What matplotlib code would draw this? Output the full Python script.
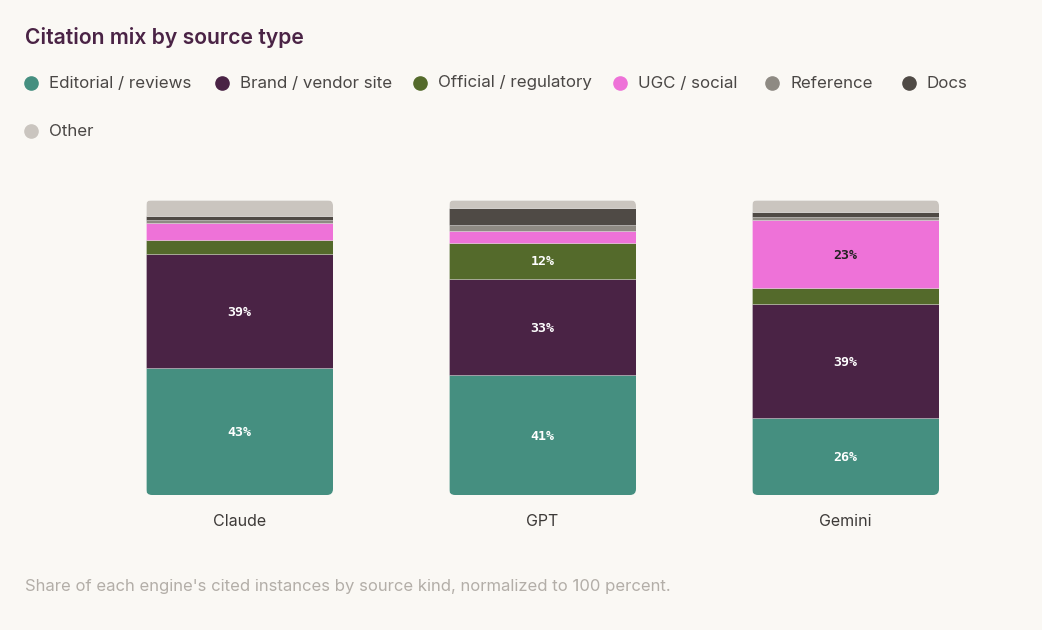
import matplotlib.pyplot as plt
from matplotlib.patches import FancyBboxPatch
from matplotlib.lines import Line2D

# data (percent of cited instances)
engines = ["Claude", "GPT", "Gemini"]
source_types = ["Editorial / reviews", "Brand / vendor site", "Official / regulatory",
                "UGC / social", "Reference", "Docs", "Other"]
editorial = [43.0, 40.7, 26.0]
brand = [38.7, 32.6, 38.6]
official = [4.7, 12.2, 5.6]
ugc = [5.8, 4.0, 23.0]
reference = [0.9, 1.9, 1.0]
docs = [1.4, 6.0, 1.8]
other = [5.5, 2.6, 4.0]
series = [editorial, brand, official, ugc, reference, docs, other]

colors = ["#458f80", "#4a2345", "#546a2b", "#ee72d8", "#8e8a83", "#4f4a45", "#cac5bf"]
label_colors = ["white", "white", "white", "#222222", "white", "white", "white"]
bg = "#faf8f4"

plt.rcParams["font.family"] = ["Inter", "DejaVu Sans"]

fig = plt.figure(figsize=(10.42, 6.3), dpi=100, facecolor=bg)
ax = fig.add_axes([88 / 1042, 135 / 630, 909 / 1042, 295 / 630])
ax.set_facecolor(bg)
ax.set_xlim(-0.5, 2.5)
ax.set_ylim(0, 100)

bar_w = 187 / 303
x = list(range(len(engines)))

# rounded clip box for each bar
clips = []
for i in x:
    total = sum(s[i] for s in series)
    box = FancyBboxPatch((i - bar_w / 2, 0), bar_w, total,
                         boxstyle="round,pad=0,rounding_size=0.02",
                         mutation_aspect=303 / 2.95,
                         transform=ax.transData, facecolor="none", edgecolor="none")
    ax.add_patch(box)
    clips.append(box)

bottom = [0, 0, 0]
for vals, col, lc in zip(series, colors, label_colors):
    bars = ax.bar(x, vals, bar_w, bottom=bottom, color=col,
                  edgecolor=(1, 1, 1, 0.3), linewidth=0.6)
    for b, clip in zip(bars, clips):
        b.set_clip_path(clip)
    for i, v in enumerate(vals):
        if v >= 10:
            ax.text(i, bottom[i] + v / 2 - 0.4, f"{v:.0f}%", ha="center", va="center",
                    color=lc, fontsize=9.5, fontweight="bold",
                    family="DejaVu Sans Mono")
    bottom = [b + v for b, v in zip(bottom, vals)]

for s in ax.spines.values():
    s.set_visible(False)
ax.set_yticks([])
ax.set_xticks(x)
ax.set_xticklabels(engines, fontsize=11.5, color="#3d3a38")
ax.tick_params(axis="x", length=0, pad=14)

# title
fig.text(25 / 1042, 1 - 38 / 630, "Citation mix by source type", fontsize=15.2,
         fontweight="semibold", color="#4a2345", va="center", ha="left")

# legend placed by hand, two rows like the reference
legend_x = [31, 222, 420, 620, 772, 909, 31]
legend_y = [83, 83, 83, 83, 83, 83, 131]
for name, col, lx, ly in zip(source_types, colors, legend_x, legend_y):
    fy = 1 - ly / 630
    fig.add_artist(Line2D([lx / 1042], [fy], marker="o", markersize=9.5,
                          color=col, linestyle="none", transform=fig.transFigure))
    fig.text((lx + 18) / 1042, fy, name, fontsize=12.2, color="#4a4745",
             va="center", ha="left")

# footer
fig.text(25 / 1042, 1 - 587 / 630,
         "Share of each engine's cited instances by source kind, normalized to 100 percent.",
         fontsize=12, color="#b3aea8", va="center", ha="left")

fig.savefig("out.png", dpi=100, facecolor=bg)
